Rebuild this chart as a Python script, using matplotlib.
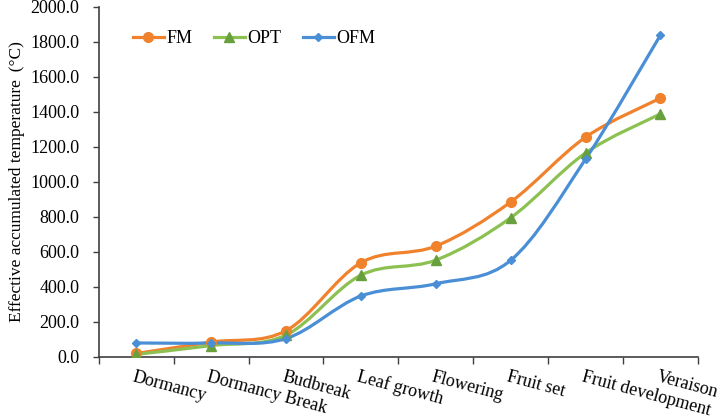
import matplotlib
matplotlib.use("Agg")
import matplotlib.pyplot as plt
from matplotlib.path import Path
from matplotlib.patches import PathPatch
import numpy as np

categories = ["Dormancy", "Dormancy Break", "Budbreak", "Leaf growth", "Flowering",
              "Fruit set", "Fruit development", "Veraison"]
fm = [20, 85, 150, 538, 633, 885, 1255, 1478]
opt = [15, 65, 125, 467, 553, 795, 1165, 1388]
ofm = [80, 80, 105, 348, 418, 552, 1130, 1838]
yticks = [0, 200, 400, 600, 800, 1000, 1200, 1400, 1600, 1800, 2000]

plt.rcParams['font.family'] = ['Liberation Serif', 'Noto Sans CJK SC', 'DejaVu Sans']

fig = plt.figure(figsize=(7.21, 4.18), dpi=100)
ax = fig.add_axes([0.137, 0.146, 0.831, 0.838])

x = np.arange(len(categories))


def smooth_path(xs, ys):
    xs = np.asarray(xs, float)
    ys = np.asarray(ys, float)
    n = len(xs)
    verts = [(xs[0], ys[0])]
    codes = [Path.MOVETO]
    for i in range(n - 1):
        i0 = max(i - 1, 0)
        i3 = min(i + 2, n - 1)
        c1 = (xs[i] + (xs[i + 1] - xs[i0]) / 6, ys[i] + (ys[i + 1] - ys[i0]) / 6)
        c2 = (xs[i + 1] - (xs[i3] - xs[i]) / 6, ys[i + 1] - (ys[i3] - ys[i]) / 6)
        verts += [c1, c2, (xs[i + 1], ys[i + 1])]
        codes += [Path.CURVE4] * 3
    return Path(verts, codes)


series = [
    ("FM", fm, '#F0822D', '#F0822D', 'o', 7),
    ("OPT", opt, '#8CC152', '#68A03E', '^', 6.5),
    ("OFM", ofm, '#4A8FD6', '#4A8FD6', 'D', 4.5),
]

for name, vals, lc, mc, mk, ms in series:
    ax.add_patch(PathPatch(smooth_path(x, vals), facecolor='none', edgecolor=lc,
                           lw=2.3, capstyle='round', joinstyle='round', zorder=2))
    ax.plot(x, vals, linestyle='none', marker=mk, color=mc, markersize=ms, zorder=3)
    ax.plot([], [], color=lc, lw=2.3, marker=mk, markerfacecolor=mc,
            markeredgecolor=mc, markersize=ms, label=name)

ax.set_xlim(-0.5, len(categories) - 0.5)
ax.set_ylim(0, 2000)
ax.set_yticks(yticks)
ax.set_yticklabels([f"{v:.1f}" for v in yticks], fontsize=13)
ax.set_xticks(np.arange(len(categories) + 1) - 0.5)
ax.set_xticklabels([])
ax.tick_params(axis='x', length=5, width=1, direction='out', color='#404040')
ax.tick_params(axis='y', length=4, width=1, direction='out', color='#404040', pad=10)

for xi, lab in zip(x, categories):
    ax.annotate(lab, xy=(xi, 0), xycoords='data', xytext=(-1, -8),
                textcoords='offset points', rotation=-15, rotation_mode='anchor',
                ha='left', va='top', fontsize=13)

for side in ['top', 'right']:
    ax.spines[side].set_visible(False)
for side in ['left', 'bottom']:
    ax.spines[side].set_color('#404040')
    ax.spines[side].set_linewidth(1.2)

ax.set_ylabel("Effective accumulated temperature\u2009 (°C)", fontsize=12.5, labelpad=4,
              family=['Liberation Serif'])

leg = ax.legend(loc='upper left', bbox_to_anchor=(0.03, 0.98), ncol=3, frameon=False,
                fontsize=13, handlelength=1.7, columnspacing=1.2, handletextpad=0.15)

fig.savefig("out.png", dpi=100)
